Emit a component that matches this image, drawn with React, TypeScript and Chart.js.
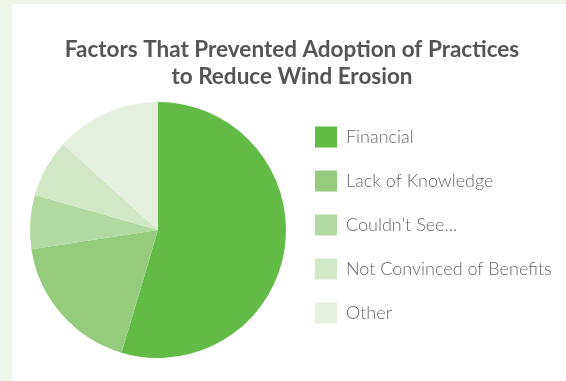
import React, { useEffect, useRef } from "react";
import { Chart, registerables } from "chart.js";

Chart.register(...registerables);

const titleLines = ["Factors That Prevented Adoption of Practices", "to Reduce Wind Erosion"];
const categories = ["Financial", "Lack of Knowledge", "Couldn\u2019t See...", "Not Convinced of Benefits", "Other"];
const shares = [54.6, 18, 6.8, 7.3, 13.3];
const sliceColors = ["#62bb47", "#95cb7d", "#b1d9a0", "#d0e8c5", "#e4f0dd"];

const legendLift = {
  id: "legendLift",
  afterLayout(chart: any) {
    const lg = chart.legend;
    if (lg) {
      lg.top -= 5;
      lg.bottom -= 5;
    }
  },
};

export default function App() {
  const ref = useRef<HTMLCanvasElement>(null);
  useEffect(() => {
    if (!ref.current) return;
    const chart = new Chart(ref.current, {
      type: "pie",
      data: {
        labels: categories,
        datasets: [
          {
            data: shares,
            backgroundColor: sliceColors,
            borderWidth: 0,
          },
        ],
      },
      plugins: [legendLift],
      options: {
        animation: false,
        responsive: false,
        layout: { padding: { left: 12, right: 6, top: 0, bottom: 23 } },
        plugins: {
          tooltip: { enabled: false },
          title: {
            display: true,
            text: titleLines,
            color: "#555555",
            font: { family: "Lato", size: 22.5, weight: "bold", lineHeight: 1.2 },
            padding: { top: 32, bottom: 12 },
          },
          legend: {
            position: "right",
            align: "center",
            fullSize: false,
            labels: {
              boxWidth: 22,
              boxHeight: 21,
              padding: 23,
              color: "#666666",
              font: { family: "Lato", size: 18, weight: "300" },
            },
          },
        },
      },
    });
    return () => chart.destroy();
  }, []);
  return (
    <div style={{ position: "fixed", left: 0, top: 0, width: 566, height: 381, background: "#eef6ea" }}>
      <div style={{ position: "absolute", left: 12, top: 4, width: 554, height: 377, background: "#ffffff" }}>
        <canvas ref={ref} width={554} height={377} style={{ display: "block" }} />
      </div>
    </div>
  );
}
